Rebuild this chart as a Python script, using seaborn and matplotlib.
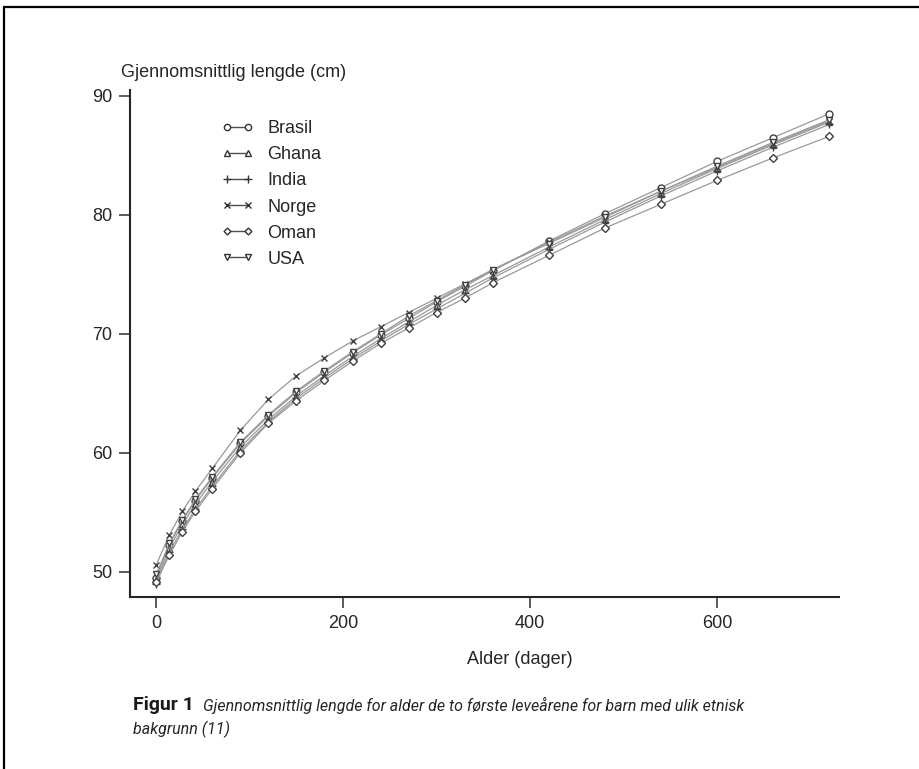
import pandas as pd
import matplotlib.pyplot as plt
import seaborn as sns
from matplotlib.lines import Line2D

# alder i dager og gjennomsnittlig lengde (cm) per land
alder = [0, 14, 28, 42, 60, 90, 120, 150, 180, 210, 240, 270, 300, 330, 360,
         420, 480, 540, 600, 660, 720]
brasil = [49.5, 52.3, 54.3, 56.0, 57.9, 60.8, 63.1, 65.1, 66.8, 68.4, 69.9,
          71.3, 72.7, 74.0, 75.3, 77.8, 80.1, 82.3, 84.5, 86.5, 88.5]
ghana = [49.3, 52.0, 54.0, 55.7, 57.6, 60.5, 62.8, 64.8, 66.5, 68.1, 69.6,
         71.0, 72.4, 73.7, 74.9, 77.3, 79.6, 81.8, 83.9, 85.9, 87.8]
india = [49.0, 51.7, 53.6, 55.3, 57.2, 60.2, 62.6, 64.6, 66.3, 67.9, 69.4,
         70.8, 72.1, 73.4, 74.7, 77.1, 79.4, 81.6, 83.7, 85.7, 87.6]
norge = [50.6, 53.1, 55.1, 56.8, 58.7, 61.9, 64.5, 66.5, 68.0, 69.4, 70.6,
         71.8, 73.0, 74.2, 75.4, 77.7, 79.9, 82.0, 84.0, 86.0, 87.9]
oman = [49.2, 51.4, 53.4, 55.1, 57.0, 60.0, 62.5, 64.4, 66.1, 67.7, 69.2,
        70.5, 71.8, 73.0, 74.3, 76.6, 78.9, 80.9, 82.9, 84.8, 86.6]
usa = [49.8, 52.4, 54.4, 56.1, 58.0, 60.9, 63.2, 65.2, 66.9, 68.5, 70.0,
       71.5, 72.8, 74.1, 75.4, 77.6, 79.8, 82.0, 84.1, 86.1, 88.0]

land = ['Brasil', 'Ghana', 'India', 'Norge', 'Oman', 'USA']
serier = [brasil, ghana, india, norge, oman, usa]
markorer = ['o', '^', '+', 'x', 'D', 'v']
storrelse = [5, 5, 6, 5, 4, 5]

sns.set_style('ticks')
plt.rcParams['font.family'] = ['Liberation Sans', 'DejaVu Sans']

fig = plt.figure(figsize=(9.19, 7.69), dpi=100)
ax = fig.add_axes([0.1415, 0.2237, 0.771, 0.6593])

for navn, verdier, m, s in zip(land, serier, markorer, storrelse):
    df = pd.DataFrame({'alder': alder, 'lengde': verdier})
    sns.lineplot(data=df, x='alder', y='lengde', ax=ax, color='0.6',
                 linewidth=0.9, marker=m, markersize=s, markeredgecolor='0.25',
                 markerfacecolor='white', markeredgewidth=1.0)

ax.set_xlim(-28, 730)
ax.set_ylim(47.9, 90.5)
ax.set_xticks([0, 200, 400, 600])
ax.set_yticks([50, 60, 70, 80, 90])
ax.set_xlabel('')
ax.set_ylabel('')
ax.tick_params(labelsize=13, length=8, width=1.2, color='0.25', pad=5,
               labelcolor='0.15')
for side in ['top', 'right']:
    ax.spines[side].set_visible(False)
for side in ['left', 'bottom']:
    ax.spines[side].set_linewidth(1.5)
    ax.spines[side].set_color('0.15')

handles = [Line2D([], [], color='0.3', linewidth=1.0, marker=m,
                  markersize=s - 0.5, markeredgecolor='0.2',
                  markerfacecolor='white')
           for m, s in zip(markorer, storrelse)]
ax.legend(handles, land, loc='upper left', bbox_to_anchor=(0.106, 0.972),
          frameon=False, numpoints=2, handlelength=1.8, handletextpad=0.75,
          labelspacing=0.5, fontsize=13, labelcolor='0.15')

fig.text(0.1317, 0.906, 'Gjennomsnittlig lengde (cm)', fontsize=13,
         color='0.15', va='center')
fig.text(0.566, 0.143, 'Alder (dager)', fontsize=13, color='0.15',
         ha='center', va='center')

fig.text(0.1447, 0.083, 'Figur 1', fontsize=14, fontweight='bold',
         family='Roboto', color='0.1', va='center')
fig.text(0.2205, 0.083,
         'Gjennomsnittlig lengde for alder de to første leveårene for barn med ulik etnisk',
         fontsize=11.5, style='italic', family='Roboto', color='0.15',
         va='center')
fig.text(0.1447, 0.051, 'bakgrunn (11)', fontsize=11.5, style='italic',
         family='Roboto', color='0.15', va='center')

# ramme oppe og til venstre
fig.add_artist(Line2D([0.004, 1.0], [0.991, 0.991], color='black',
                      linewidth=1.6, transform=fig.transFigure))
fig.add_artist(Line2D([0.004, 0.004], [0.0, 0.991], color='black',
                      linewidth=1.6, transform=fig.transFigure))

fig.savefig('out.png', dpi=100)
